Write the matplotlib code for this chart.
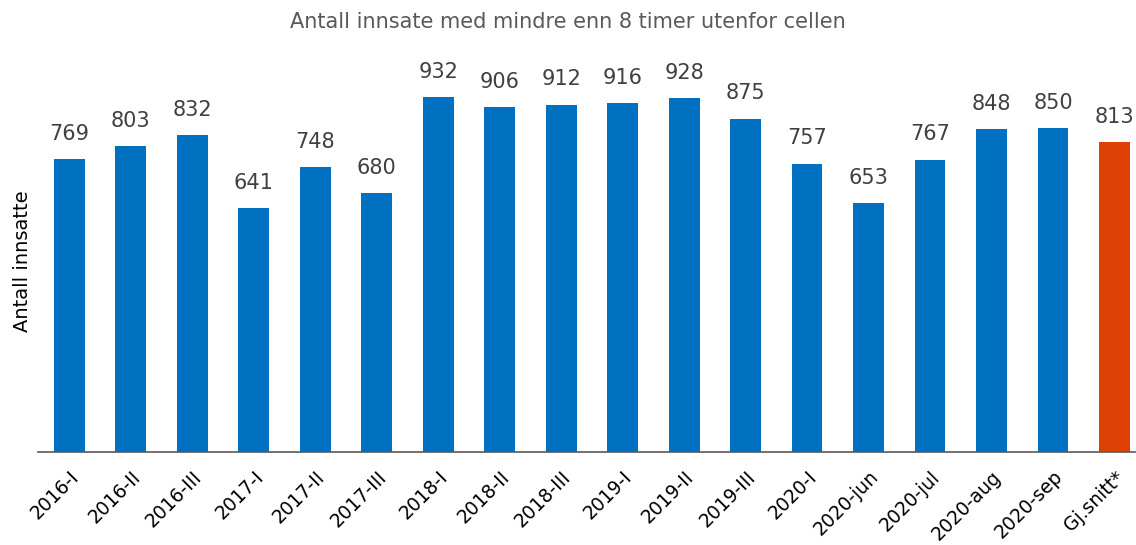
import matplotlib.pyplot as plt
import numpy as np

categories = ['2016-I', '2016-II', '2016-III', '2017-I', '2017-II', '2017-III',
              '2018-I', '2018-II', '2018-III', '2019-I', '2019-II', '2019-III',
              '2020-I', '2020-jun', '2020-jul', '2020-aug', '2020-sep', 'Gj.snitt*']
values = [769, 803, 832, 641, 748, 680, 932, 906, 912, 916, 928, 875,
          757, 653, 767, 848, 850, 813]

plt.rcParams['font.family'] = ['DejaVu Sans']

fig = plt.figure(figsize=(11.36, 5.45), dpi=100)
ax = fig.add_axes([38 / 1136, 93 / 545, 1098 / 1136, 381 / 545])

colors = ['#0070C0'] * (len(values) - 1) + ['#DD4204']
x = np.arange(len(values))
bars = ax.bar(x, values, width=0.5, color=colors)

for rect, v in zip(bars, values):
    ax.annotate(str(v), (rect.get_x() + rect.get_width() / 2, v),
                xytext=(0, 11), textcoords='offset points',
                ha='center', va='bottom', fontsize=15, color='#404040')

ax.set_xlim(-0.51, 17.35)
ax.set_ylim(0, 1000)
ax.set_yticks([])
ax.set_xticks(x)
ax.set_xticklabels(categories, rotation=45, ha='right', rotation_mode='anchor',
                   fontsize=13.5, color='black')
ax.tick_params(axis='x', length=0, pad=11)
for s in ['top', 'right', 'left']:
    ax.spines[s].set_visible(False)
ax.spines['bottom'].set_color('#595959')
ax.spines['bottom'].set_linewidth(1.2)

ax.set_ylabel('Antall innsatte', fontsize=14, color='black', labelpad=4)
fig.text(0.5, 1 - 22 / 545, 'Antall innsate med mindre enn 8 timer utenfor cellen',
         ha='center', va='center', fontsize=15, color='#595959')

fig.savefig('out.png', dpi=100)
